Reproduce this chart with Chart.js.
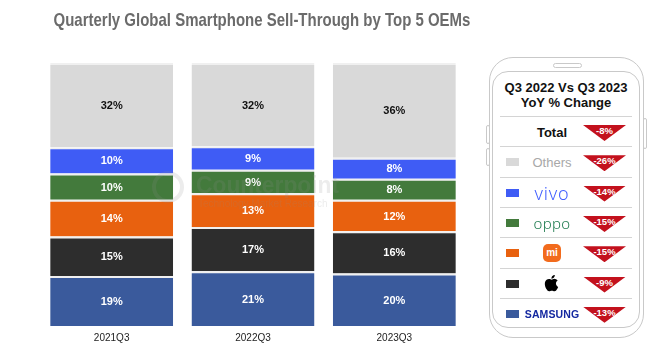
<!DOCTYPE html>
<html>
<head>
<meta charset="utf-8">
<script src="https://cdn.jsdelivr.net/npm/chart.js@4.4.0/dist/chart.umd.min.js"></script>
<style>
  body { margin: 0; background: #fff; font-family: 'Liberation Sans', Arial, sans-serif; }
  #wrap { position: relative; width: 672px; height: 350px; overflow: hidden; }
  #title { position: absolute; left: 0; top: 9px; width: 524px; text-align: center; font: bold 18.5px 'Liberation Sans', Arial, sans-serif; color: #6b6b6b; line-height: 22px; transform: scaleX(0.81); transform-origin: 262px 0; white-space: nowrap; }
  #chartBox { position: absolute; left: 0; top: 0; width: 480px; height: 350px; }
  .wm { position: absolute; color: rgba(140,140,140,0.17); pointer-events: none; white-space: nowrap; }
  .phone-line { position: absolute; border: 1.5px solid #c9c9c9; box-sizing: border-box; }
  .row { position: absolute; left: 500px; width: 132px; height: 30px; border-top: 1px solid #d4d4d4; box-sizing: border-box; }
  .sq { position: absolute; left: 6px; top: 11px; width: 13px; height: 8px; }
  .logo { position: absolute; left: 22px; width: 60px; top: 0; height: 30px; display: flex; align-items: center; justify-content: center; }
  .tri { position: absolute; left: 83px; top: 8px; width: 43px; height: 16px; background: #c3111d; clip-path: polygon(0 0, 100% 0, 50% 100%); color: #fff; font: bold 9.5px 'Liberation Sans', Arial, sans-serif; text-align: center; line-height: 11px; }
</style>
</head>
<body>
<div id="wrap">
  <div id="chartBox"><canvas id="chart" width="480" height="350"></canvas></div>
  <div id="title">Quarterly Global Smartphone Sell-Through by Top 5 OEMs</div>
  <div class="wm" style="left:152px;top:171px;width:24px;height:24px;border:4px solid rgba(140,140,140,0.17);border-radius:50%;"></div>
  <div class="wm" style="left:196px;top:171px;font:bold 24px 'Liberation Sans', Arial;transform:scaleX(0.95);transform-origin:0 0;">Counterpoint</div>
  <div class="wm" style="left:198px;top:198px;font:10px 'Liberation Sans', Arial;">Technology Market Research</div>

  <div class="phone-line" style="left:489px;top:57px;width:155px;height:281px;border-radius:24px;"></div>
  <div class="phone-line" style="left:492px;top:71px;width:148px;height:257px;border-radius:16px;"></div>
  <div class="phone-line" style="left:553px;top:63px;width:29px;height:5px;border-radius:3px;border-width:1px;"></div>
  <div class="phone-line" style="left:486px;top:125px;width:4px;height:19px;border-radius:2px;border-width:1px;"></div>
  <div class="phone-line" style="left:486px;top:148px;width:4px;height:18px;border-radius:2px;border-width:1px;"></div>
  <div class="phone-line" style="left:643px;top:118px;width:4px;height:31px;border-radius:2px;border-width:1px;"></div>
  <div style="position:absolute;left:492px;top:80px;width:148px;text-align:center;font:bold 13px 'Liberation Sans', Arial;line-height:15px;color:#111;">Q3 2022 Vs Q3 2023<br>YoY % Change</div>
  <div id="table"></div>
</div>
<script>
const categories = ['2021Q3', '2022Q3', '2023Q3'];
const oems = ['Samsung', 'Apple', 'Xiaomi', 'OPPO', 'vivo', 'Others'];
const samsung = [19, 21, 20];
const apple = [15, 17, 16];
const xiaomi = [14, 13, 12];
const oppo = [10, 9, 8];
const vivo = [10, 9, 8];
const others = [32, 32, 36];
const series = [samsung, apple, xiaomi, oppo, vivo, others];
const colors = ['#3a5a9c', '#2d2d2d', '#e8610f', '#437a3c', '#3f5cf5', '#d9d9d9'];
const labelColors = ['#fff', '#fff', '#fff', '#fff', '#fff', '#111'];

// YoY table (Q3 2022 vs Q3 2023)
const yoyRows = ['Total', 'Others', 'vivo', 'OPPO', 'Xiaomi', 'Apple', 'Samsung'];
const yoyChange = [-8, -26, -14, -15, -15, -9, -13];

// bars are drawn as share of each quarter's total
const totals = categories.map((c, j) => series.reduce((s, arr) => s + arr[j], 0));

const segmentLabels = {
  id: 'segmentLabels',
  afterDatasetsDraw(chart) {
    const ctx = chart.ctx;
    ctx.save();
    ctx.font = 'bold 11px "Liberation Sans", Arial, sans-serif';
    ctx.textAlign = 'center';
    ctx.textBaseline = 'middle';
    chart.data.datasets.forEach((ds, i) => {
      chart.getDatasetMeta(i).data.forEach((bar, j) => {
        const p = bar.getProps(['x', 'y', 'base'], true);
        ctx.fillStyle = labelColors[i];
        ctx.fillText(series[i][j] + '%', p.x, (p.y + p.base) / 2 + 1);
      });
    });
    ctx.restore();
  }
};

new Chart(document.getElementById('chart').getContext('2d'), {
  type: 'bar',
  data: {
    labels: categories,
    datasets: series.map((arr, i) => ({
      label: oems[i],
      data: arr.map((v, j) => v / totals[j] * 100),
      backgroundColor: colors[i],
      borderColor: '#f0f0f0',
      borderWidth: { top: 2, bottom: 0, left: 0, right: 0 },
      borderSkipped: false,
      categoryPercentage: 1,
      barPercentage: 0.87
    }))
  },
  options: {
    responsive: false,
    animation: false,
    layout: { padding: { left: 41, right: 15, top: 63, bottom: 0 } },
    plugins: { legend: { display: false }, tooltip: { enabled: false } },
    scales: {
      x: {
        stacked: true,
        grid: { display: false, drawTicks: false },
        border: { display: false },
        ticks: { color: '#222', padding: 6, font: { size: 10, family: "'Liberation Sans', Arial, sans-serif" } }
      },
      y: { stacked: true, display: false, min: 0, max: 100 }
    }
  },
  plugins: [segmentLabels]
});

// phone table
const appleSvg = '<svg width="16" height="19" viewBox="3 2 18 21"><path fill="#000" d="M16.4 12.6c0-2.3 1.9-3.4 2-3.5-1.1-1.6-2.8-1.8-3.4-1.8-1.4-.1-2.8.9-3.5.9-.7 0-1.8-.9-3-.8-1.5 0-3 .9-3.8 2.3-1.6 2.8-.4 7 1.2 9.3.8 1.1 1.7 2.4 2.9 2.3 1.2 0 1.6-.7 3-.7s1.8.7 3 .7c1.3 0 2.1-1.1 2.8-2.3.9-1.3 1.3-2.6 1.3-2.6s-2.5-1-2.5-3.8zM14.1 5.8c.6-.8 1.1-1.9 1-3-.9 0-2.1.6-2.7 1.4-.6.7-1.1 1.8-1 2.9 1 .1 2.1-.5 2.7-1.3z"/></svg>';
const logos = {
  Total: '<span style="font:bold 13px \'Liberation Sans\',Arial;color:#111;">Total</span>',
  Others: '<span style="font:13px \'Liberation Sans\',Arial;color:#a8a8a8;">Others</span>',
  vivo: '<span style="font:300 18px \'Noto Sans\',sans-serif;color:#415fff;letter-spacing:0.8px;">vivo</span>',
  OPPO: '<span style="font:300 15px \'Noto Sans\',sans-serif;color:#1e7b4f;letter-spacing:0.3px;">oppo</span>',
  Xiaomi: '<span style="display:inline-block;width:18px;height:18px;border-radius:5px;background:#f26b1d;color:#fff;font:bold 10px \'Liberation Sans\',Arial;line-height:18px;text-align:center;">mi</span>',
  Apple: appleSvg,
  Samsung: '<span style="font:bold 10.5px \'Liberation Sans\',Arial;color:#1428a0;letter-spacing:0.1px;">SAMSUNG</span>'
};
const sqColor = { Others: colors[5], vivo: colors[4], OPPO: colors[3], Xiaomi: colors[2], Apple: colors[1], Samsung: colors[0] };
let html = '';
yoyRows.forEach((name, i) => {
  const top = 116 + i * 30.3;
  html += `<div class="row" style="top:${top}px">
    ${sqColor[name] ? `<div class="sq" style="background:${sqColor[name]}"></div>` : ''}
    <div class="logo">${logos[name]}</div>
    <div class="tri">${yoyChange[i]}%</div>
  </div>`;
});
document.getElementById('table').innerHTML = html;
</script>
</body>
</html>
